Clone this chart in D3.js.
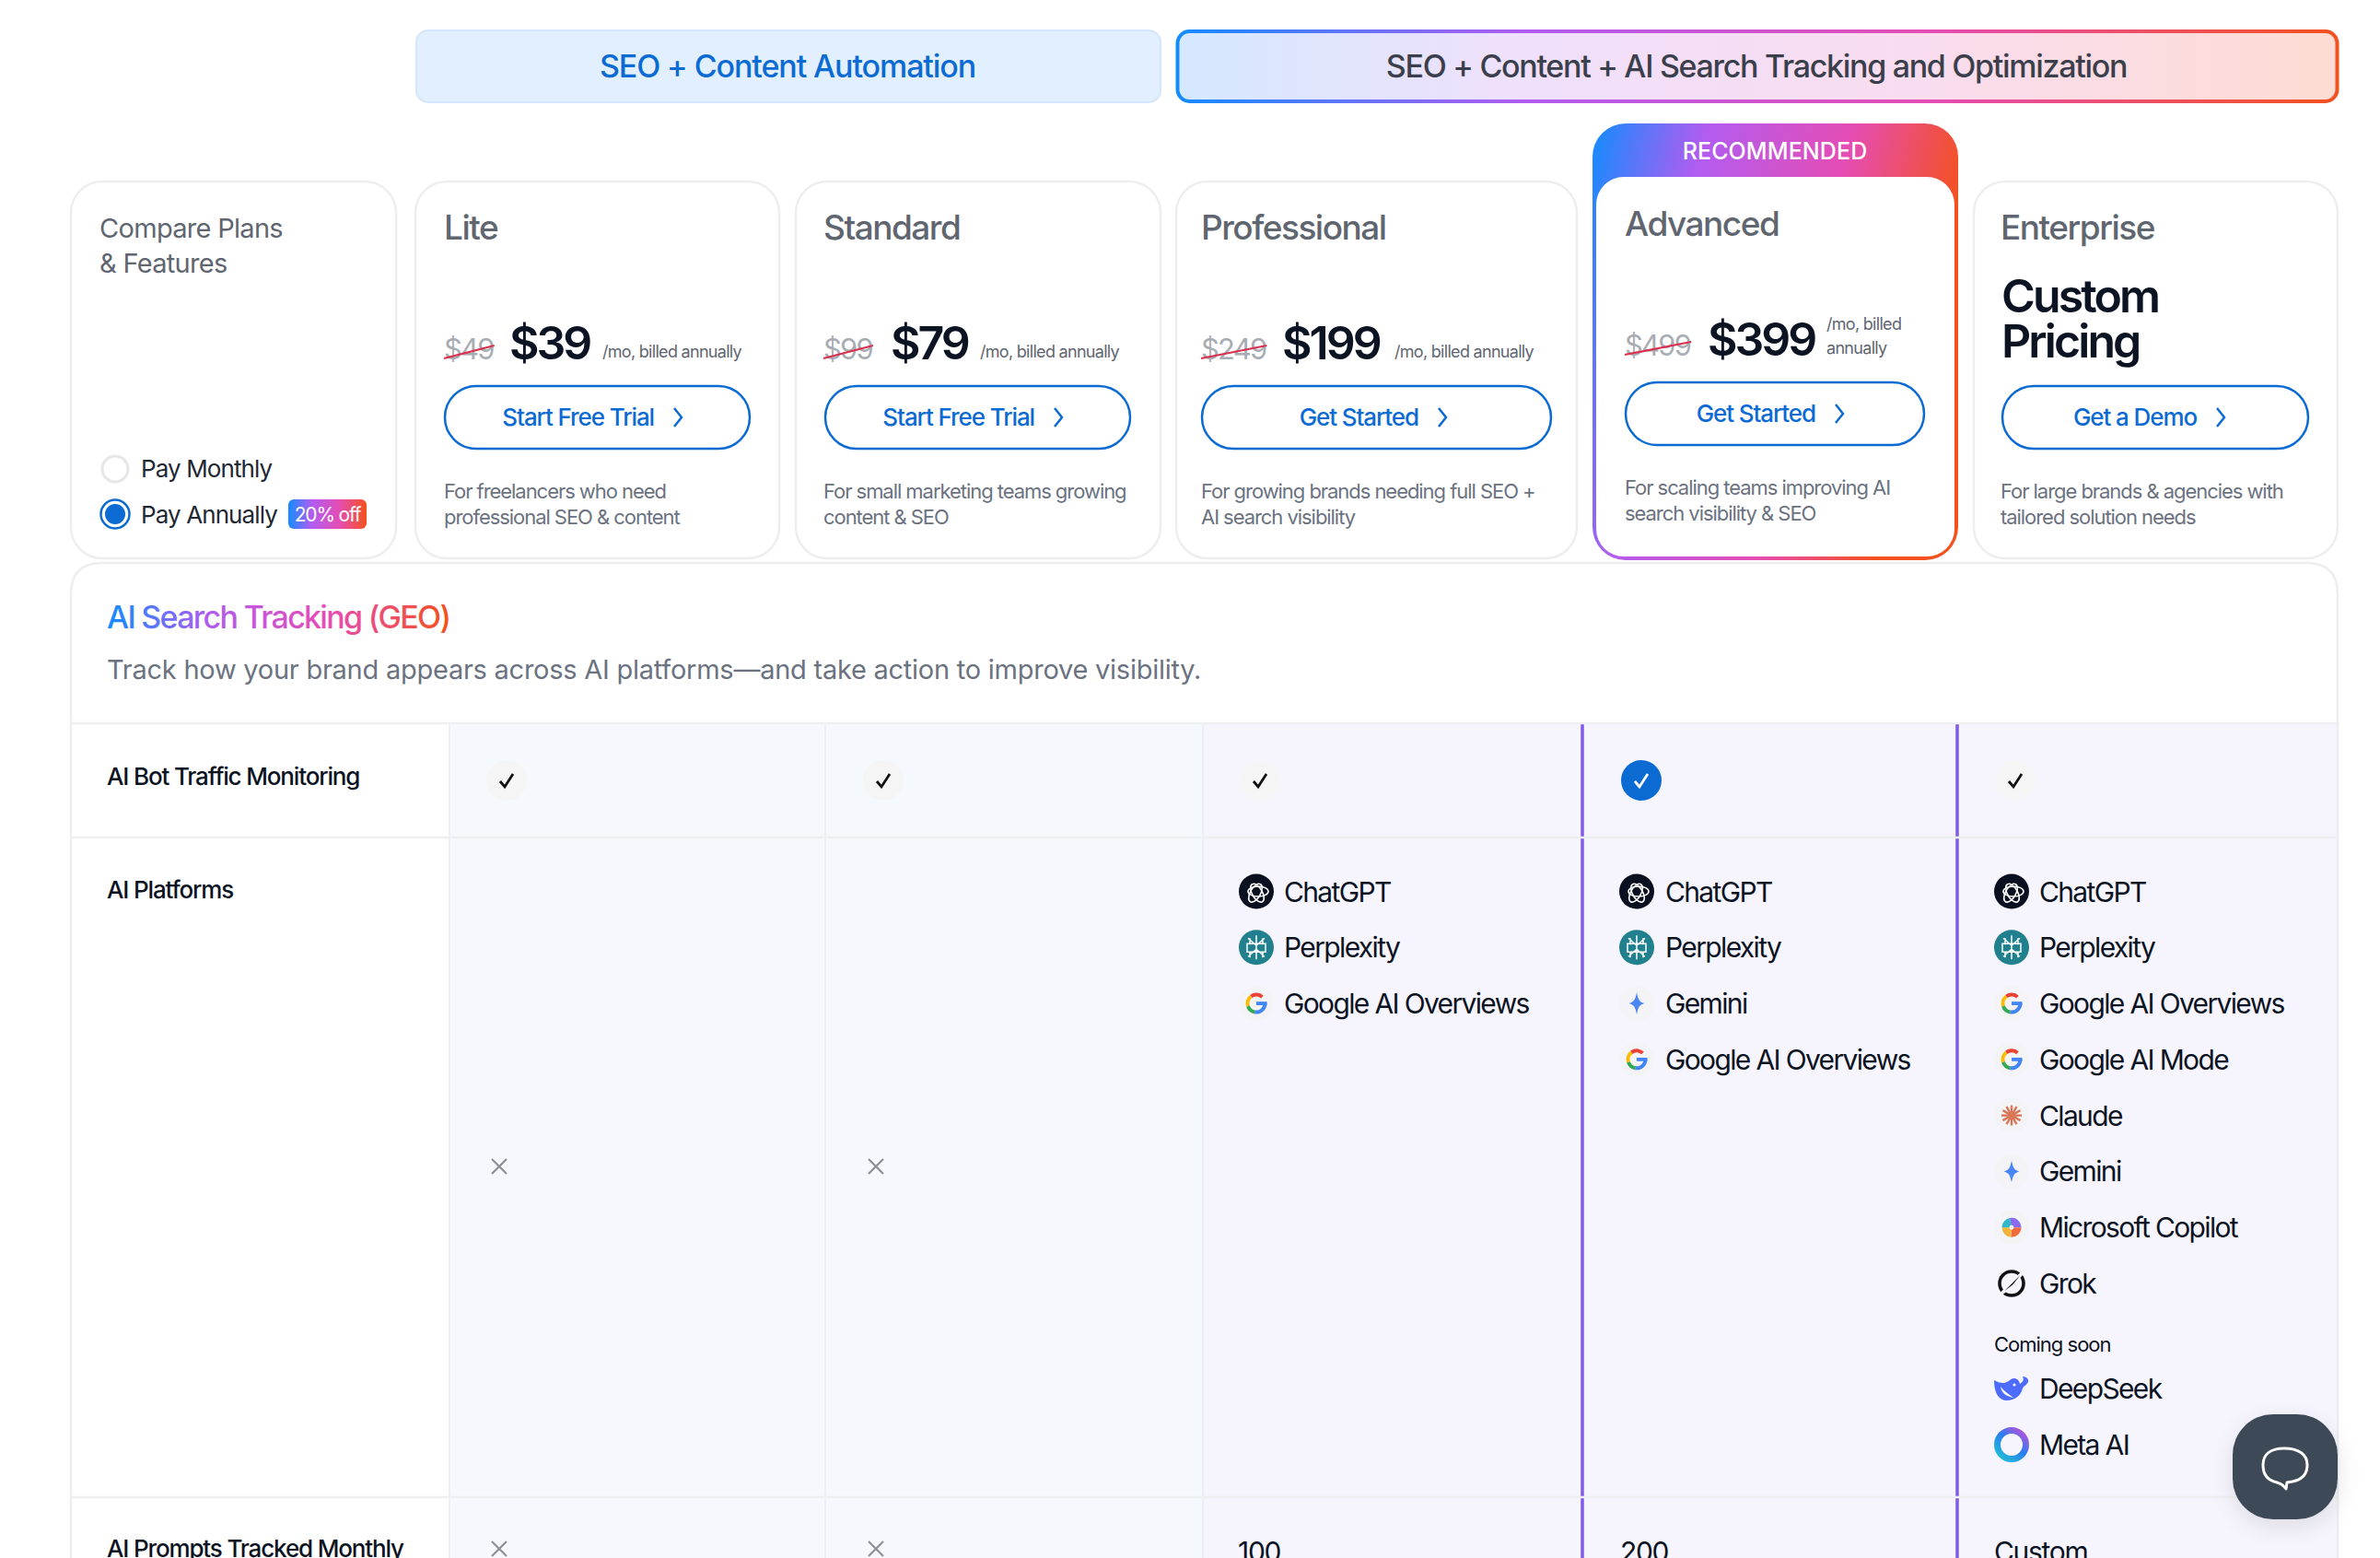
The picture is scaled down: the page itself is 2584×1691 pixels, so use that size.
<!DOCTYPE html>
<html lang="en">
<head>
<meta charset="UTF-8">
<script src="https://cdnjs.cloudflare.com/ajax/libs/d3/7.8.5/d3.min.js"></script>
<title>Compare Plans</title>
<style>
	html, body { margin: 0; padding: 0; background: #fff; overflow: hidden; }
	svg { display: block; }
	text { font-family: Inter, "Noto Sans", sans-serif; }
</style>
</head>
<body>
<div id="draw-here"></div>
<script>
/* content */
const groupLabels = ["SEO + Content Automation", "SEO + Content + AI Search Tracking and Optimization"];
const planNames = ["Lite", "Standard", "Professional", "Advanced", "Enterprise"];
const oldPrices = ["$49", "$99", "$249", "$499", null];
const newPrices = ["$39", "$79", "$199", "$399", null];
const ctaLabels = ["Start Free Trial", "Start Free Trial", "Get Started", "Get Started", "Get a Demo"];
const planBlurbs = [
	["For freelancers who need", "professional SEO & content"],
	["For small marketing teams growing", "content & SEO"],
	["For growing brands needing full SEO +", "AI search visibility"],
	["For scaling teams improving AI", "search visibility & SEO"],
	["For large brands & agencies with", "tailored solution needs"]
];
const billingOptions = ["Pay Monthly", "Pay Annually"];
const rowLabels = ["AI Bot Traffic Monitoring", "AI Platforms", "AI Prompts Tracked Monthly"];
const platformsPro = ["ChatGPT", "Perplexity", "Google AI Overviews"];
const platformsAdv = ["ChatGPT", "Perplexity", "Gemini", "Google AI Overviews"];
const platformsEnt = ["ChatGPT", "Perplexity", "Google AI Overviews", "Google AI Mode", "Claude", "Gemini", "Microsoft Copilot", "Grok"];
const platformsSoon = ["DeepSeek", "Meta AI"];
const promptValues = [null, null, "100", "200", "Custom"];

const W = 2584, H = 1691;
const INK = "#0c1322", GREY = "#5f6670", SOFT = "#6b7280", BLUE = "#0b6bd3";

/* layout scales, one value per plan */
const cardLeft = d3.scaleOrdinal().domain(planNames).range([451, 864, 1277, 1733, 2143]);
const cardRight = d3.scaleOrdinal().domain(planNames).range([846, 1260, 1712, 2122, 2538]);
const contentX = d3.scaleOrdinal().domain(planNames).range([482, 894, 1304, 1764, 2172]);
const cardShift = d3.scaleOrdinal().domain(planNames).range([0, 0, 0, -4, 0]);
const priceX = d3.scaleOrdinal().domain(planNames).range([553, 967, 1392, 1854, 0]);
const perX = d3.scaleOrdinal().domain(planNames).range([654, 1064, 1514, 1983, 0]);
const btnLeft = d3.scaleOrdinal().domain(planNames).range([483, 896, 1305, 1765, 2174]);
const btnRight = d3.scaleOrdinal().domain(planNames).range([814, 1227, 1684, 2089, 2506]);
const chevronX = d3.scaleOrdinal().domain(planNames).range([736, 1149, 1566, 1997, 2411]);
const colLeft = d3.scaleOrdinal().domain(planNames).range([488, 896, 1306, 1718, 2125]);
const colRight = d3.scaleOrdinal().domain(planNames).range([896, 1306, 1718, 2125, 2538]);
const checkX = d3.scaleOrdinal().domain(planNames).range([550, 959, 1368, 1782, 2188]);
const iconX = d3.scaleOrdinal().domain(planNames).range([0, 0, 1364, 1777, 2184]);
const labelX = d3.scaleOrdinal().domain(planNames).range([0, 0, 1394, 1808, 2214]);
const crossX = d3.scaleOrdinal().domain(planNames).range([542, 951, 0, 0, 0]);
const promptX = d3.scaleOrdinal().domain(planNames).range([0, 0, 1344, 1759, 2165]);
const platformY = d3.scaleLinear().domain([0, 7]).range([978.5, 1404]);

const svg = d3.select("#draw-here").append("svg")
	.attr("width", W).attr("height", H).attr("viewBox", "0 0 " + W + " " + H);
const defs = svg.append("defs");

function rainbow(id, x1, y1, x2, y2, stops) {
	const g = defs.append("linearGradient").attr("id", id)
		.attr("gradientUnits", "userSpaceOnUse")
		.attr("x1", x1).attr("y1", y1).attr("x2", x2).attr("y2", y2);
	g.selectAll("stop").data(stops).join("stop")
		.attr("offset", d => d[0]).attr("stop-color", d => d[1]);
}
const vivid = [[0, "#128cff"], [0.3, "#b25cf0"], [0.65, "#e54db4"], [1, "#f4511e"]];
rainbow("gHeadStroke", 1277, 0, 2539, 0, vivid);
rainbow("gHeadFill", 1277, 0, 2539, 0, [[0, "#d4e8ff"], [0.3, "#f0e0fb"], [0.65, "#f9dcee"], [1, "#fddcd3"]]);
rainbow("gCard", 1729, 134, 2126, 224, [[0, "#128cff"], [0.3, "#b25cf0"], [0.68, "#e54db4"], [1, "#f4511e"]]);
rainbow("gBadge", 313, 0, 398, 0, vivid);
rainbow("gTitle", 116, 0, 487, 0, vivid);
rainbow("gMeta", 15, -15, -10, 15, [[0, "#c050d8"], [0.5, "#2a7df0"], [1, "#22b8d8"]]);

function txt(parent, x, y, str, size, weight, fill, spacing) {
	return parent.append("text").attr("x", x).attr("y", y)
		.attr("font-size", size).attr("font-weight", weight).attr("fill", fill)
		.attr("letter-spacing", spacing || 0).text(str);
}

/* group headers */
const head = svg.append("g");
head.append("rect").attr("x", 452).attr("y", 33).attr("width", 808).attr("height", 78).attr("rx", 13)
	.attr("fill", "#e2effe").attr("stroke", "#d5e6fb").attr("stroke-width", 2);
head.append("rect").attr("x", 1278.5).attr("y", 34).attr("width", 1259).attr("height", 76).attr("rx", 13)
	.attr("fill", "url(#gHeadFill)").attr("stroke", "url(#gHeadStroke)").attr("stroke-width", 4);
txt(head, 855, 84, groupLabels[0], 34, 500, BLUE, -1.1).attr("text-anchor", "middle");
txt(head, 1907, 84, groupLabels[1], 34, 500, "#3a3f4b", -1.3).attr("text-anchor", "middle");

/* plain cards */
const CARD_TOP = 197, CARD_BOTTOM = 606;
svg.append("g").selectAll("rect").data(["__compare"].concat(planNames.filter(p => p !== "Advanced"))).join("rect")
	.attr("x", d => d === "__compare" ? 77 : cardLeft(d))
	.attr("y", CARD_TOP)
	.attr("width", d => d === "__compare" ? 353 : cardRight(d) - cardLeft(d))
	.attr("height", CARD_BOTTOM - CARD_TOP).attr("rx", 34)
	.attr("fill", "#fff").attr("stroke", "#eeeeee").attr("stroke-width", 2.5);

/* highlighted card */
const adv = svg.append("g");
adv.append("rect").attr("x", 1729).attr("y", 134).attr("width", 397).attr("height", 474).attr("rx", 36)
	.attr("fill", "url(#gCard)");
adv.append("rect").attr("x", 1733).attr("y", 192).attr("width", 389).attr("height", 412).attr("rx", 30)
	.attr("fill", "#fff");
txt(adv, 1927, 173, "RECOMMENDED", 25, 500, "#fff", 0.1).attr("text-anchor", "middle");

/* compare card */
const cmp = svg.append("g");
txt(cmp, 108, 258, "Compare Plans", 29, 400, GREY, -0.7);
txt(cmp, 108, 296, "& Features", 29, 400, GREY, -0.7);
cmp.append("circle").attr("cx", 125).attr("cy", 509).attr("r", 14).attr("fill", "#fff")
	.attr("stroke", "#e6e6e6").attr("stroke-width", 3);
cmp.append("circle").attr("cx", 125).attr("cy", 558).attr("r", 15.5).attr("fill", "#fff")
	.attr("stroke", BLUE).attr("stroke-width", 2.5);
cmp.append("circle").attr("cx", 125).attr("cy", 558).attr("r", 11).attr("fill", BLUE);
cmp.selectAll("text.bill").data(billingOptions).join("text").attr("class", "bill")
	.attr("x", 153).attr("y", (d, i) => i ? 568 : 518)
	.attr("font-size", 26).attr("font-weight", 400).attr("fill", "#1f2733").attr("letter-spacing", -0.9)
	.text(d => d);
cmp.append("rect").attr("x", 313).attr("y", 542).attr("width", 85).attr("height", 32).attr("rx", 6)
	.attr("fill", "url(#gBadge)");
txt(cmp, 355.5, 566, "20% off", 21, 400, "#fff", -1.2).attr("text-anchor", "middle");

/* plan text */
const plan = svg.append("g").selectAll("g").data(planNames).join("g");
plan.append("text")
	.attr("x", d => contentX(d)).attr("y", d => 260 + cardShift(d))
	.attr("font-size", 37).attr("font-weight", 500).attr("fill", GREY).attr("letter-spacing", -1.5)
	.text(d => d);
plan.each(function (d, i) {
	const g = d3.select(this), dy = cardShift(d);
	if (newPrices[i]) {
		const oldTxt = txt(g, contentX(d), 390 + dy, oldPrices[i], 31, 400, "#a8acb3", -1.8);
		const oldW = oldTxt.node().getComputedTextLength();
		g.append("line").attr("x1", contentX(d)).attr("y1", 389 + dy)
			.attr("x2", contentX(d) + oldW + 1).attr("y2", 375 + dy)
			.attr("stroke", "#d9304f").attr("stroke-width", 2.2);
		txt(g, priceX(d), 390 + dy, newPrices[i], 50, 600, INK, -3);
		if (d === "Advanced") {
			txt(g, perX(d), 358, "/mo, billed", 18, 400, GREY, -0.7);
			txt(g, perX(d), 384, "annually", 18, 400, GREY, -0.7);
		} else {
			txt(g, perX(d), 388, "/mo, billed annually", 18, 400, GREY, -0.7);
		}
	} else {
		txt(g, contentX(d) + 1, 339, "Custom", 50, 600, INK, -2.9);
		txt(g, contentX(d) + 1, 388, "Pricing", 50, 600, INK, -2.9);
	}
	// call to action
	g.append("rect").attr("x", btnLeft(d)).attr("y", 419 + dy)
		.attr("width", btnRight(d) - btnLeft(d)).attr("height", 68).attr("rx", 34)
		.attr("fill", "#fff").attr("stroke", BLUE).attr("stroke-width", 2.5);
	txt(g, chevronX(d) - 26, 462 + dy, ctaLabels[i], 26, 500, BLUE, -1.1).attr("text-anchor", "end");
	g.append("path").attr("d", d3.line()([[chevronX(d) - 4, 443 + dy], [chevronX(d) + 4, 453 + dy], [chevronX(d) - 4, 463 + dy]]))
		.attr("fill", "none").attr("stroke", BLUE).attr("stroke-width", 2.5);
	g.selectAll("text.blurb").data(planBlurbs[i]).join("text").attr("class", "blurb")
		.attr("x", contentX(d)).attr("y", (l, k) => 541 + dy + k * 28)
		.attr("font-size", 22).attr("font-weight", 400).attr("fill", SOFT).attr("letter-spacing", -1.05)
		.text(l => l);
});

/* table panel */
const table = svg.append("g");
const PANEL_TOP = 611, HEAD_BOTTOM = 785, ROW1_BOTTOM = 909, ROW2_BOTTOM = 1625;
table.append("path")
	.attr("d", "M77 " + (H + 10) + "V" + (PANEL_TOP + 34) + "Q77 " + PANEL_TOP + " 111 " + PANEL_TOP +
		"H2504Q2538 " + PANEL_TOP + " 2538 " + (PANEL_TOP + 34) + "V" + (H + 10) + "Z")
	.attr("fill", "#fff").attr("stroke", "#eeeeee").attr("stroke-width", 2.5);
table.selectAll("rect.col").data(planNames).join("rect").attr("class", "col")
	.attr("x", d => colLeft(d)).attr("y", HEAD_BOTTOM)
	.attr("width", d => colRight(d) - colLeft(d)).attr("height", H - HEAD_BOTTOM)
	.attr("fill", (d, i) => i < 2 ? "#f5f9fd" : "#f6f5fe");
table.selectAll("line.col").data(planNames.slice(0, 3)).join("line").attr("class", "col")
	.attr("x1", d => colLeft(d)).attr("x2", d => colLeft(d)).attr("y1", HEAD_BOTTOM).attr("y2", H)
	.attr("stroke", "#e9ebef").attr("stroke-width", 1.5);
table.selectAll("line.edge").data(planNames.slice(3)).join("line").attr("class", "edge")
	.attr("x1", d => colLeft(d)).attr("x2", d => colLeft(d)).attr("y1", HEAD_BOTTOM).attr("y2", H)
	.attr("stroke", "#7f5be6").attr("stroke-width", 3.5);
table.selectAll("line.row").data([HEAD_BOTTOM, ROW1_BOTTOM, ROW2_BOTTOM]).join("line").attr("class", "row")
	.attr("x1", 77).attr("x2", 2538).attr("y1", d => d).attr("y2", d => d)
	.attr("stroke", "#eeeff1").attr("stroke-width", 2.5);
table.append("line").attr("x1", 2538).attr("x2", 2538).attr("y1", HEAD_BOTTOM).attr("y2", H)
	.attr("stroke", "#e9ebef").attr("stroke-width", 1.5);

txt(table, 116, 682, "AI Search Tracking (GEO)", 34, 500, "url(#gTitle)", -1.7);
txt(table, 116, 737, "Track how your brand appears across AI platforms\u2014and take action to improve visibility.", 29, 400, SOFT, -0.25);
table.selectAll("text.rowlab").data(rowLabels).join("text").attr("class", "rowlab")
	.attr("x", 116).attr("y", (d, i) => [852, 975, 1690][i])
	.attr("font-size", 26).attr("font-weight", 500).attr("fill", INK).attr("letter-spacing", -1.15)
	.text(d => d);

/* row 1: checks */
const check = table.selectAll("g.check").data(planNames).join("g").attr("class", "check")
	.attr("transform", d => "translate(" + checkX(d) + ",847)");
check.append("circle").attr("r", 22).attr("fill", d => d === "Advanced" ? BLUE : "#f5f5f5");
check.append("path").attr("d", d3.line()([[-7, 1], [-2, 7], [7, -7]]))
	.attr("fill", "none").attr("stroke", d => d === "Advanced" ? "#fff" : "#111").attr("stroke-width", 2.8);

/* crosses */
function crosses(y) {
	table.selectAll(null).data(planNames.slice(0, 2)).join("path")
		.attr("d", d => {
			const x = crossX(d);
			return "M" + (x - 8) + " " + (y - 8) + "L" + (x + 8) + " " + (y + 8) + "M" + (x + 8) + " " + (y - 8) + "L" + (x - 8) + " " + (y + 8);
		})
		.attr("fill", "none").attr("stroke", "#8b9097").attr("stroke-width", 2.2);
}
crosses(1266);
crosses(1681);

/* row 3 values */
table.selectAll("text.prompt").data(planNames.filter((d, i) => promptValues[i])).join("text").attr("class", "prompt")
	.attr("x", d => promptX(d)).attr("y", 1695)
	.attr("font-size", 30).attr("font-weight", 400).attr("fill", INK).attr("letter-spacing", -1.3)
	.text(d => promptValues[planNames.indexOf(d)]);

/* platform logos, roughly drawn */
function halo(g) { g.append("circle").attr("r", 19).attr("fill", "#f4f4f7"); }
const ringArc = d3.arc();
function drawIcon(g, name) {
	if (name === "ChatGPT") {
		g.append("circle").attr("r", 19).attr("fill", "#0a1020");
		g.selectAll("ellipse").data([0, 60, 120]).join("ellipse")
			.attr("cx", 2).attr("rx", 11).attr("ry", 5.5).attr("transform", a => "rotate(" + a + ")")
			.attr("fill", "none").attr("stroke", "#fff").attr("stroke-width", 1.6);
	} else if (name === "Perplexity") {
		g.append("circle").attr("r", 19).attr("fill", "#20808d");
		g.append("path").attr("d", "M0 -13V13M-9 -10L0 -2L9 -10M-9 10L0 2L9 10M-10 -4H10V5H-10Z M-7 -10V-3M7 -10V-3M-7 5V11M7 5V11")
			.attr("fill", "none").attr("stroke", "#fff").attr("stroke-width", 1.5);
	} else if (name.indexOf("Google") === 0) {
		halo(g);
		const parts = [[-0.65, 0.75, "#ea4335"], [-1.9, -0.65, "#fbbc05"], [-3, -1.9, "#34a853"], [1.55, 3.3, "#4285f4"]];
		g.selectAll("path").data(parts).join("path")
			.attr("d", p => ringArc({ innerRadius: 7.5, outerRadius: 11.5, startAngle: p[0], endAngle: p[1] }))
			.attr("fill", p => p[2]);
		g.append("rect").attr("x", 0).attr("y", -1.9).attr("width", 11.5).attr("height", 3.8).attr("fill", "#4285f4");
	} else if (name === "Gemini") {
		halo(g);
		g.append("path").attr("d", "M0 -12C1.5 -4 3 -1.5 8.5 0C3 1.5 1.5 4 0 12C-1.5 4 -3 1.5 -8.5 0C-3 -1.5 -1.5 -4 0 -12Z")
			.attr("fill", "#4b86f5");
	} else if (name === "Claude") {
		halo(g);
		g.selectAll("line").data(d3.range(0, 180, 30)).join("line")
			.attr("y1", -11).attr("y2", 11).attr("transform", a => "rotate(" + a + ")")
			.attr("stroke", "#d97757").attr("stroke-width", 2.4);
	} else if (name === "Microsoft Copilot") {
		halo(g);
		const parts = [[-0.2, 1.6, "#8a6cf0"], [1.6, 3.2, "#f06a3c"], [3.2, 4.7, "#f0b43c"], [4.7, 6.1, "#30b8c8"]];
		g.selectAll("path").data(parts).join("path")
			.attr("d", p => ringArc({ innerRadius: 2.5, outerRadius: 10.5, startAngle: p[0], endAngle: p[1] }))
			.attr("fill", p => p[2]);
	} else if (name === "Grok") {
		g.append("circle").attr("r", 13).attr("fill", "none").attr("stroke", "#111").attr("stroke-width", 3.6);
		g.append("path").attr("d", "M-19 18L20 -21L2 2Z").attr("fill", "#111").attr("stroke", "#f6f5fe").attr("stroke-width", 2);
	} else if (name === "DeepSeek") {
		g.append("path").attr("d", "M-19 -9C-13 -6 -8 -4 -2 -9C2 -13 8 -11 9 -5C12 -7 14 -9 12 -13C16 -13 19 -10 18 -7C16 -3 13 -3 12 0C10 8 3 13 -5 13C-14 13 -19 5 -19 -9Z")
			.attr("fill", "#4d6bfe");
		g.append("path").attr("d", "M-12 -2C-8 3 -3 6 2 10C-4 9 -11 6 -12 -2Z").attr("fill", "#f6f5fe");
		g.append("circle").attr("cx", 3).attr("cy", -4).attr("r", 1.6).attr("fill", "#f6f5fe");
	} else if (name === "Meta AI") {
		g.append("circle").attr("r", 15.5).attr("fill", "none").attr("stroke", "url(#gMeta)").attr("stroke-width", 7);
	}
}

function platformList(plan, names, yOf) {
	const row = table.selectAll(null).data(names).join("g");
	row.append("g").attr("transform", (d, i) => "translate(" + iconX(plan) + "," + (yOf(i) - 11) + ")")
		.each(function (d) { drawIcon(d3.select(this), d); });
	row.append("text").attr("x", labelX(plan)).attr("y", (d, i) => yOf(i))
		.attr("font-size", 30).attr("font-weight", 400).attr("fill", INK).attr("letter-spacing", -1.65)
		.text(d => d);
}
platformList("Professional", platformsPro, platformY);
platformList("Advanced", platformsAdv, platformY);
platformList("Enterprise", platformsEnt, platformY);
const soonY = d3.scaleLinear().domain([0, 1]).range([1518, 1579]);
txt(table, 2165, 1467, "Coming soon", 22, 400, INK, -1);
platformList("Enterprise", platformsSoon, soonY);

/* chat bubble button */
const shadow = defs.append("filter").attr("id", "fShadow").attr("x", "-30%").attr("y", "-30%").attr("width", "160%").attr("height", "170%");
shadow.append("feDropShadow").attr("dx", 0).attr("dy", 8).attr("stdDeviation", 12).attr("flood-color", "#000").attr("flood-opacity", 0.1);
const chat = svg.append("g").attr("transform", "translate(2481,1592)");
chat.append("rect").attr("x", -57).attr("y", -57).attr("width", 114).attr("height", 114).attr("rx", 44)
	.attr("fill", "#3c4a57").attr("filter", "url(#fShadow)");
chat.append("path")
	.attr("d", "M-1 -20C14 -20 24 -14 24 -2C24 8 18 14 8 16L2 17L1 24C-1 21 -5 18 -9 17C-18 15 -24 9 -24 -2C-24 -14 -15 -20 -1 -20Z")
	.attr("fill", "none").attr("stroke", "#fff").attr("stroke-width", 3).attr("stroke-linejoin", "round");
</script>
</body>
</html>
